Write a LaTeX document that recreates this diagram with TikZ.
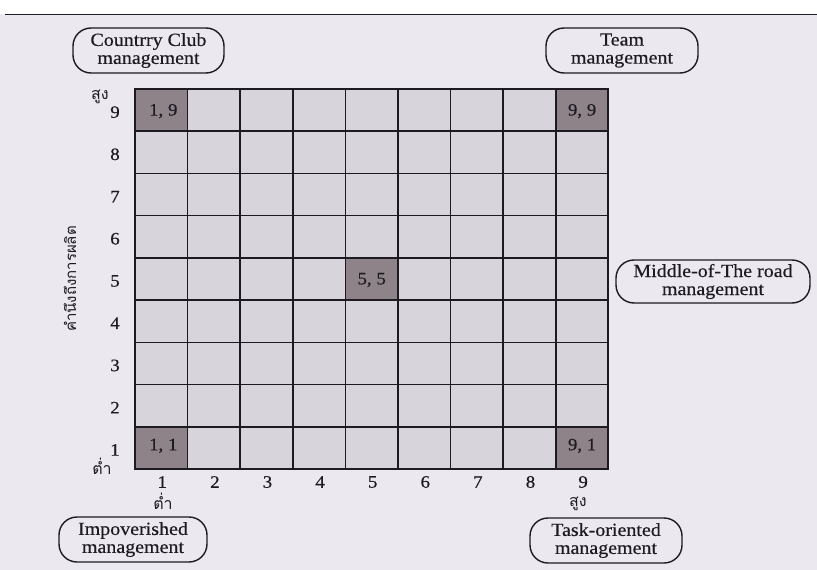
\documentclass[tikz,border=0pt]{standalone}
\usepackage{fontspec}
\setmainfont[FakeStretch=1.08,FakeBold=0.4]{Liberation Serif}
\newfontfamily\thaifont[Script=Thai]{Loma}
\definecolor{pagebg}{HTML}{EBE8EF}
\definecolor{cellbg}{HTML}{D8D4DC}
\definecolor{celldark}{HTML}{8D8388}
\definecolor{inkc}{HTML}{1E1A22}
\tikzset{
  stylebox/.style={draw=inkc, line width=1.4pt, rounded corners=18pt, fill=pagebg,
    align=center, inner sep=0pt, font=\fontsize{18.5}{18}\selectfont, text=inkc},
  ticklab/.style={font=\fontsize{17.5}{17.5}\selectfont, text=inkc, inner sep=0pt},
  celllab/.style={font=\fontsize{17.5}{17.5}\selectfont, text=inkc, inner sep=0pt},
  thailab/.style={font=\thaifont\fontsize{16}{16}\selectfont, text=inkc, inner sep=0pt},
  gridline/.style={draw=inkc, line width=1.6pt}
}
\begin{document}
\begin{tikzpicture}[x=1pt,y=-1pt]
\useasboundingbox (0,0) rectangle (817,570);
% page
\fill[white] (0,0) rectangle (817,14);
\fill[pagebg] (0,14) rectangle (817,570);
\draw[inkc, line width=1.5pt] (5,14.5) -- (817,14.5);
% grid
\def\gx{135}\def\gy{89}\def\cw{52.6}\def\ch{42.22}
\fill[cellbg] (\gx,\gy) rectangle ({\gx+9*\cw},{\gy+9*\ch});
% dark cells
\fill[celldark] (\gx,\gy) rectangle ({\gx+\cw},{\gy+\ch});
\fill[celldark] ({\gx+8*\cw},\gy) rectangle ({\gx+9*\cw},{\gy+\ch});
\fill[celldark] (\gx,{\gy+8*\ch}) rectangle ({\gx+\cw},{\gy+9*\ch});
\fill[celldark] ({\gx+8*\cw},{\gy+8*\ch}) rectangle ({\gx+9*\cw},{\gy+9*\ch});
\fill[celldark] ({\gx+4*\cw},{\gy+4*\ch}) rectangle ({\gx+5*\cw},{\gy+5*\ch});
\foreach \i in {1,...,8} {
  \draw[gridline] ({\gx+\i*\cw},\gy) -- ({\gx+\i*\cw},{\gy+9*\ch});
  \draw[gridline] (\gx,{\gy+\i*\ch}) -- ({\gx+9*\cw},{\gy+\i*\ch});
}
\draw[gridline, line width=2pt] (\gx,\gy) rectangle ({\gx+9*\cw},{\gy+9*\ch});
% cell labels
\node[celllab] (c19) at ({\gx+0.5*\cw+2},{\gy+0.5*\ch+1}) {1, 9};
\node[celllab] (c99) at ({\gx+8.5*\cw},{\gy+0.5*\ch+1}) {9, 9};
\node[celllab] (c11) at ({\gx+0.5*\cw+2},{\gy+8.5*\ch-2}) {1, 1};
\node[celllab] (c91) at ({\gx+8.5*\cw},{\gy+8.5*\ch-2}) {9, 1};
\node[celllab] (c55) at ({\gx+4.5*\cw},{\gy+4.5*\ch+1}) {5, 5};
% axis numbers
\foreach \i in {1,...,9} {
  \node[ticklab] (xt\i) at ({\gx+(\i-0.5)*\cw+1},482) {\i};
  \node[ticklab] (yt\i) at (115,{\gy+(9.5-\i)*\ch+2}) {\i};
}
% thai axis words
\node[thailab] (ylo) at (102,466) {ต่ำ};
\node[thailab] (yhi) at (100,97) {สูง};
\node[thailab] (xlo) at (163,501) {ต่ำ};
\node[thailab] (xhi) at (578,504) {สูง};
\node[thailab, rotate=90, font=\thaifont\fontsize{15}{15}\selectfont] (ylab) at (70,279) {คำนึงถึงการผลิต};
% style boxes
\node[stylebox, minimum width=151pt, minimum height=45pt] (cc) at (148.5,50.5) {Countrry Club\\management};
\node[stylebox, minimum width=152pt, minimum height=45pt] (team) at (622,50.5) {Team\\management};
\node[stylebox, minimum width=148pt, minimum height=45pt] (imp) at (133,539.5) {Impoverished\\management};
\node[stylebox, minimum width=152pt, minimum height=45pt] (task) at (606,540.5) {Task-oriented\\management};
\node[stylebox, minimum width=194pt, minimum height=43pt] (mid) at (713,281.5) {Middle-of-The road\\management};
\end{tikzpicture}
\end{document}
